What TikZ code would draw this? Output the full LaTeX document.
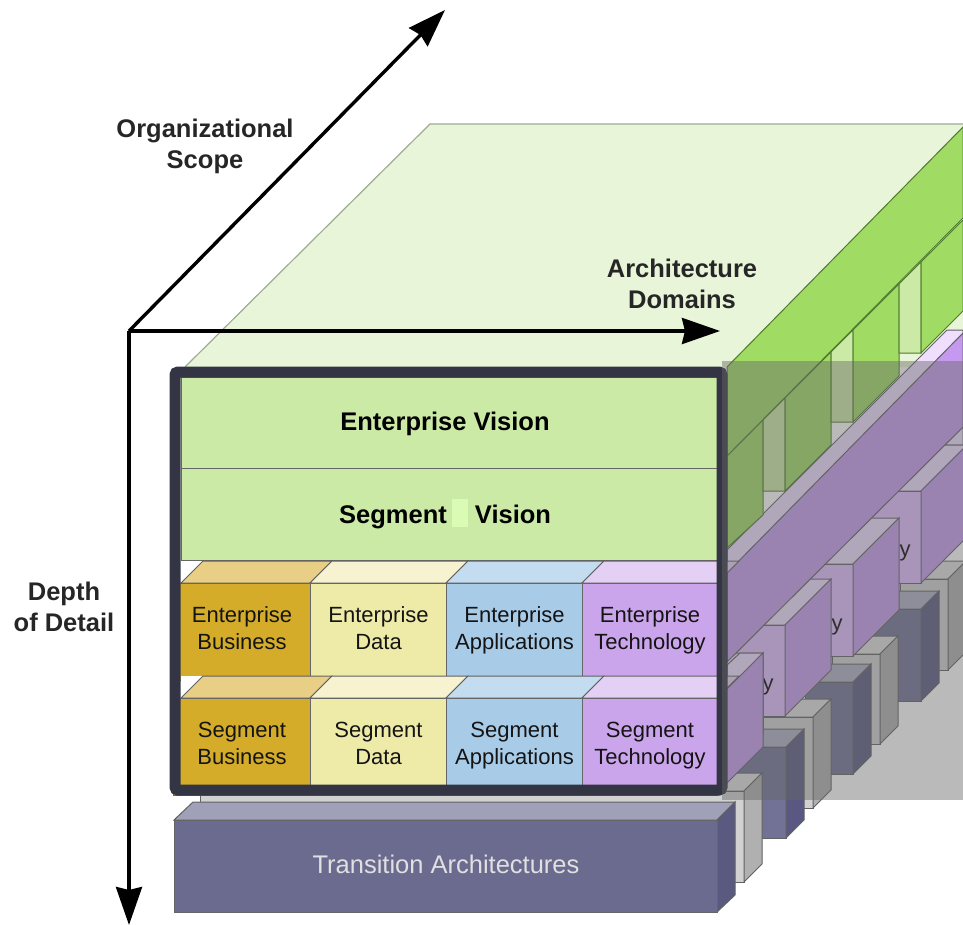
\documentclass[tikz,border=0pt]{standalone}
\usepackage{fontspec}
\setmainfont{Liberation Sans}
\usetikzlibrary{arrows.meta}
\definecolor{plategreen}{HTML}{E8F5D8}
\definecolor{plateedge}{HTML}{A0AA95}
\definecolor{bandgreen}{HTML}{A0DC64}
\definecolor{panelgreen}{HTML}{CBEAA5}
\definecolor{patchgreen}{HTML}{DAFBB4}
\definecolor{edgegreen}{HTML}{4F7A30}
\definecolor{bandpurple}{HTML}{C699F0}
\definecolor{frontpurple}{HTML}{E1BDFF}
\definecolor{toppurple}{HTML}{F0DEFF}
\definecolor{framedark}{HTML}{333545}
\definecolor{darkfront}{HTML}{727296}
\definecolor{darkside}{HTML}{585882}
\definecolor{darktop}{HTML}{B0B0C8}
\definecolor{transfront}{HTML}{6B6B90}
\definecolor{transside}{HTML}{5A5A80}
\definecolor{transtop}{HTML}{A0A0B8}
\definecolor{busface}{HTML}{D4AC2A}
\definecolor{bustop}{HTML}{E8CF85}
\definecolor{dataface}{HTML}{EEEBA8}
\definecolor{datatop}{HTML}{F7F2D0}
\definecolor{appface}{HTML}{A8CBE8}
\definecolor{apptop}{HTML}{C4DCF0}
\definecolor{techface}{HTML}{CBA5EB}
\definecolor{techtop}{HTML}{E4D0F5}
\tikzstyle{axis} = [draw=black, line width=3.4pt, -{Stealth[length=38pt,width=26pt,inset=3pt]}]
\tikzstyle{axislabel} = [font=\bfseries\fontsize{25.5}{31}\selectfont, align=center, text=black!85]
\tikzstyle{visionlabel} = [font=\bfseries\fontsize{25.5}{28}\selectfont, text=black, anchor=base]
\tikzstyle{cell} = [draw=black!60, line width=1pt, anchor=north west, align=center, inner sep=0pt, text=black!92, font=\fontsize{22}{27}\selectfont, execute at begin node={\rule{0pt}{23.5pt}}, execute at end node=\strut]
\tikzstyle{edge} = [draw=black!62, line width=1pt]
\tikzstyle{greenedge} = [draw=edgegreen, line width=1pt]
% left x, right x, top y, bottom y, depth, front, side, top
\newcommand{\colbox}[8]{
   \path[edge, fill=#8] (#1,#3) -- (#2,#3) -- ++(#5,-#5) -- ++(#1-#2,0) -- cycle;
   \path[edge, fill=#6] (#1,#3) rectangle (#2,#4);
   \path[edge, fill=#7] (#2,#3) -- ++(#5,-#5) -- ++(0,#4-#3) -- (#2,#4) -- cycle;
}
\newcommand{\graybox}[4]{\colbox{#1}{#2}{#3}{#4}{18}{black!18}{black!31}{black!12}}
\newcommand{\darkbox}[4]{\colbox{#1}{#2}{#3}{#4}{18}{darkfront}{darkside}{darktop}}
\newcommand{\purplebox}[4]{\colbox{#1}{#2}{#3}{#4}{46}{frontpurple}{bandpurple}{toppurple}}
\newcommand{\celltop}[4]{\path[edge, fill=#4] (#1,#3) -- (#2,#3) -- ++(22,-22) -- ++(#1-#2,0) -- cycle;}
% row of cell tops, with the white gap behind them
\newcommand{\toprow}[1]{
   \path[fill=white] (181,#1-22) rectangle (717,#1);
   \celltop{181}{310}{#1}{bustop}
   \celltop{310}{446}{#1}{datatop}
   \celltop{446}{582}{#1}{apptop}
   \celltop{582}{717}{#1}{techtop}
   \path[fill=white] (181,#1-22) -- (194,#1-22) -- (181,#1-9) -- cycle;
}
\begin{document}
\begin{tikzpicture}[x=1pt, y=-1pt]
   \useasboundingbox (0,0) rectangle (963,925);

   % top plate
   \path[fill=plategreen] (185,367) -- (430,124) -- (963,124) -- (963,367) -- cycle;
   \draw[draw=plateedge, line width=1.2pt] (185,367) -- (430,124) -- (963,124);

   % layer behind the green panels
   \path[edge, fill=toppurple] (727,575) -- (963,337) -- (963,330) -- (947,330) -- (727,550) -- cycle;

   % gray and dark columns, far to near
   \graybox{900}{948}{579}{670}
   \darkbox{873}{921}{609}{701}
   \graybox{832}{880}{654}{744}
   \darkbox{805}{853}{682}{774}
   \graybox{763}{813}{717}{808}
   \darkbox{738}{786}{747}{838}
   \graybox{200}{744}{791}{882}

   % purple columns, far to near
   \path[edge, fill=toppurple] (945,445) -- (963,445) -- (963,427) -- cycle;
   \purplebox{853}{921}{491}{583}
   \node (yone) at (905,553) {\fontsize{22}{27}\selectfont y};
   \purplebox{785}{853}{564}{656}
   \node (ytwo) at (837,627) {\fontsize{22}{27}\selectfont y};
   \purplebox{717}{785}{625}{716}
   \node (ythree) at (768,687) {\fontsize{22}{27}\selectfont y};
   \purplebox{649}{717}{699}{780}
   \path[edge, fill=toppurple] (727,665) -- (740,653) -- (763,653) -- (727,690) -- cycle;
   \path[edge, fill=bandpurple] (717,699) -- (763,653) -- (763,747) -- (717,793) -- cycle;

   % purple band
   \path[edge, fill=bandpurple] (727,573) -- (963,333) -- (963,427) -- (727,662) -- cycle;

   % green side panels
   \path[greenedge, fill=bandgreen] (727,456) -- (763,420) -- (763,515) -- (727,548) -- cycle;
   \path[greenedge, fill=panelgreen] (763,420) -- (785,398) -- (785,491) -- (763,491) -- cycle;
   \path[greenedge, fill=bandgreen] (785,398) -- (831,352) -- (831,445) -- (785,491) -- cycle;
   \path[greenedge, fill=panelgreen] (831,352) -- (853,330) -- (853,422) -- (831,422) -- cycle;
   \path[greenedge, fill=bandgreen] (853,330) -- (899,284) -- (899,376) -- (853,422) -- cycle;
   \path[greenedge, fill=panelgreen] (899,284) -- (921,262) -- (921,353) -- (899,353) -- cycle;
   \path[greenedge, fill=bandgreen] (921,262) -- (963,220) -- (963,311) -- (921,353) -- cycle;
   \path[greenedge, fill=bandgreen] (727,367) -- (963,127) -- (963,218) -- (727,456) -- cycle;

   % vision rows
   \node[cell, fill=panelgreen, minimum width=536pt, minimum height=91pt] (evision) at (181,377) {};
   \node[visionlabel] (evisiontext) at (445,430) {Enterprise Vision};
   \node[cell, fill=panelgreen, minimum width=536pt, minimum height=92pt] (svision) at (181,468) {};
   \path[fill=patchgreen] (452,499) rectangle (468,527);
   \node[visionlabel] (svisiona) at (393,523) {Segment};
   \node[visionlabel] (svisionb) at (513,523) {Vision};

   % enterprise cells
   \toprow{583}
   \node[cell, fill=busface, minimum width=137pt, minimum height=97pt] (ebusiness) at (173,583) {Enterprise\\Business};
   \node[cell, fill=dataface, minimum width=136pt, minimum height=97pt] (edata) at (310,583) {Enterprise\\Data};
   \node[cell, fill=appface, minimum width=136pt, minimum height=97pt] (eapps) at (446,583) {Enterprise\\Applications};
   \node[cell, fill=techface, minimum width=135pt, minimum height=97pt] (etech) at (582,583) {Enterprise\\Technology};

   % segment cells
   \toprow{698}
   \node[cell, fill=busface, minimum width=137pt, minimum height=97pt] (sbusiness) at (173,698) {Segment\\Business};
   \node[cell, fill=dataface, minimum width=136pt, minimum height=97pt] (sdata) at (310,698) {Segment\\Data};
   \node[cell, fill=appface, minimum width=136pt, minimum height=97pt] (sapps) at (446,698) {Segment\\Applications};
   \node[cell, fill=techface, minimum width=135pt, minimum height=97pt] (stech) at (582,698) {Segment\\Technology};

   % frame
   \draw[draw=framedark, line width=11pt, rounded corners=3pt] (175,372) rectangle (722,790);

   % gray veil
   \path[fill=black!60, fill opacity=0.45] (722,361) rectangle (963,800);

   % transition block
   \path[edge, fill=transtop] (174,820) -- (193,802) -- (735,802) -- (717,820) -- cycle;
   \path[edge, fill=transside] (717,820) -- (735,802) -- (735,895) -- (717,912) -- cycle;
   \node[cell, fill=transfront, minimum width=543pt, minimum height=92pt, font=\fontsize{25.5}{30}\selectfont, text=black!12] (transition) at (174,820) {Transition Architectures};

   % axes
   \coordinate (origin) at (129,331);
   \coordinate (scopeend) at (445,10);
   \coordinate (domainend) at (720,331);
   \coordinate (depthend) at (129,925);
   \draw[axis] (origin) -- (scopeend);
   \draw[axis] (origin) -- (domainend);
   \draw[axis] (origin) -- (depthend);
   \node[axislabel] (scope) at (205,146) {Organizational\\Scope};
   \node[axislabel] (domains) at (682,284) {Architecture\\Domains};
   \node[axislabel] (depth) at (64,607) {Depth\\of Detail};
\end{tikzpicture}
\end{document}
